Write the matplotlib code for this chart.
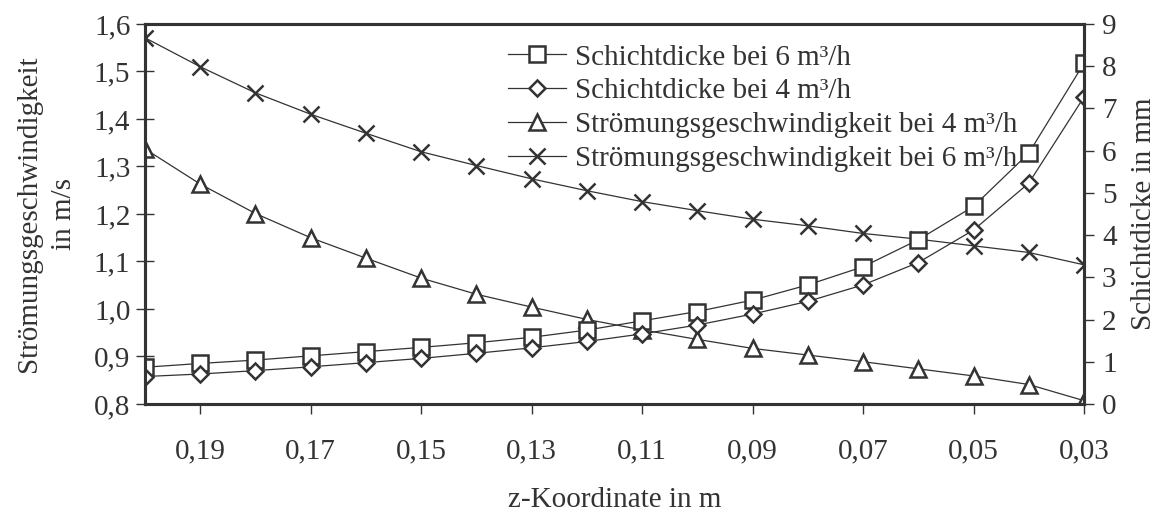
import matplotlib
matplotlib.use("Agg")
import matplotlib.pyplot as plt
from matplotlib.ticker import FuncFormatter

# data
z = [0.20, 0.19, 0.18, 0.17, 0.16, 0.15, 0.14, 0.13, 0.12,
     0.11, 0.10, 0.09, 0.08, 0.07, 0.06, 0.05, 0.04, 0.03]
dicke_6 = [0.87, 0.96, 1.04, 1.14, 1.24, 1.34, 1.45, 1.58, 1.75,
           1.97, 2.19, 2.46, 2.82, 3.25, 3.89, 4.68, 5.94, 8.07]
dicke_4 = [0.65, 0.71, 0.79, 0.88, 0.98, 1.08, 1.20, 1.33, 1.48,
           1.66, 1.87, 2.13, 2.43, 2.82, 3.35, 4.12, 5.23, 7.27]
v_4 = [1.337, 1.263, 1.201, 1.150, 1.107, 1.065, 1.031, 1.004, 0.978,
       0.956, 0.936, 0.917, 0.903, 0.889, 0.874, 0.859, 0.841, 0.807]
v_6 = [1.571, 1.510, 1.455, 1.410, 1.370, 1.331, 1.302, 1.274, 1.249,
       1.226, 1.207, 1.189, 1.175, 1.159, 1.147, 1.133, 1.119, 1.093]

xticks = [0.19, 0.17, 0.15, 0.13, 0.11, 0.09, 0.07, 0.05, 0.03]
lticks = [0.8, 0.9, 1.0, 1.1, 1.2, 1.3, 1.4, 1.5, 1.6]
rticks = list(range(0, 10))

col = "#333333"
plt.rcParams["font.family"] = ["Liberation Serif", "DejaVu Serif"]
plt.rcParams["font.size"] = 21
plt.rcParams["text.color"] = col
plt.rcParams["axes.labelcolor"] = col
plt.rcParams["xtick.color"] = col
plt.rcParams["ytick.color"] = col

fig = plt.figure(figsize=(11.71, 5.16), dpi=100)
ax = fig.add_axes([0.1238, 0.2171, 0.8019, 0.7364])
ax2 = ax.twinx()

mk = dict(color=col, lw=0.9, mfc="white", mec=col, mew=1.8)
l3, = ax.plot(z, v_4, marker="^", ms=11, label="Strömungsgeschwindigkeit bei 4 m³/h", **mk)
l4, = ax.plot(z, v_6, marker="x", ms=12, label="Strömungsgeschwindigkeit bei 6 m³/h", **mk)
l1, = ax2.plot(z, dicke_6, marker="s", ms=11, label="Schichtdicke bei 6 m³/h", **mk)
l2, = ax2.plot(z, dicke_4, marker="D", ms=8, label="Schichtdicke bei 4 m³/h", **mk)

ax.set_xlim(0.20, 0.03)
ax.set_ylim(0.8, 1.6)
ax2.set_ylim(0, 9)
ax.set_xticks(xticks)
ax.set_yticks(lticks)
ax2.set_yticks(rticks)
ax.xaxis.set_major_formatter(FuncFormatter(lambda v, p: ("%.2f" % v).replace(".", ",")))
ax.yaxis.set_major_formatter(FuncFormatter(lambda v, p: ("%.1f" % v).replace(".", ",")))

for a in (ax, ax2):
    for s in a.spines.values():
        s.set_linewidth(2.2)
        s.set_color(col)
ax.tick_params(axis="y", direction="inout", length=13, width=1, pad=4)
ax.tick_params(axis="x", direction="out", length=7, width=1, pad=18)
ax2.tick_params(axis="y", direction="out", length=7, width=1, pad=6)

ax.set_ylabel("Strömungsgeschwindigkeit\nin m/s", linespacing=1.45, labelpad=12)
ax2.set_ylabel("Schichtdicke in mm", labelpad=10)
ax.set_xlabel("z-Koordinate in m", labelpad=16)

ax2.legend(handles=[l1, l2, l3, l4], loc="upper left", bbox_to_anchor=(0.371, 0.985),
           frameon=False, handlelength=2.0, handletextpad=0.3, labelspacing=0.25,
           borderpad=0, fontsize=21)

fig.savefig("out.png", dpi=100)
